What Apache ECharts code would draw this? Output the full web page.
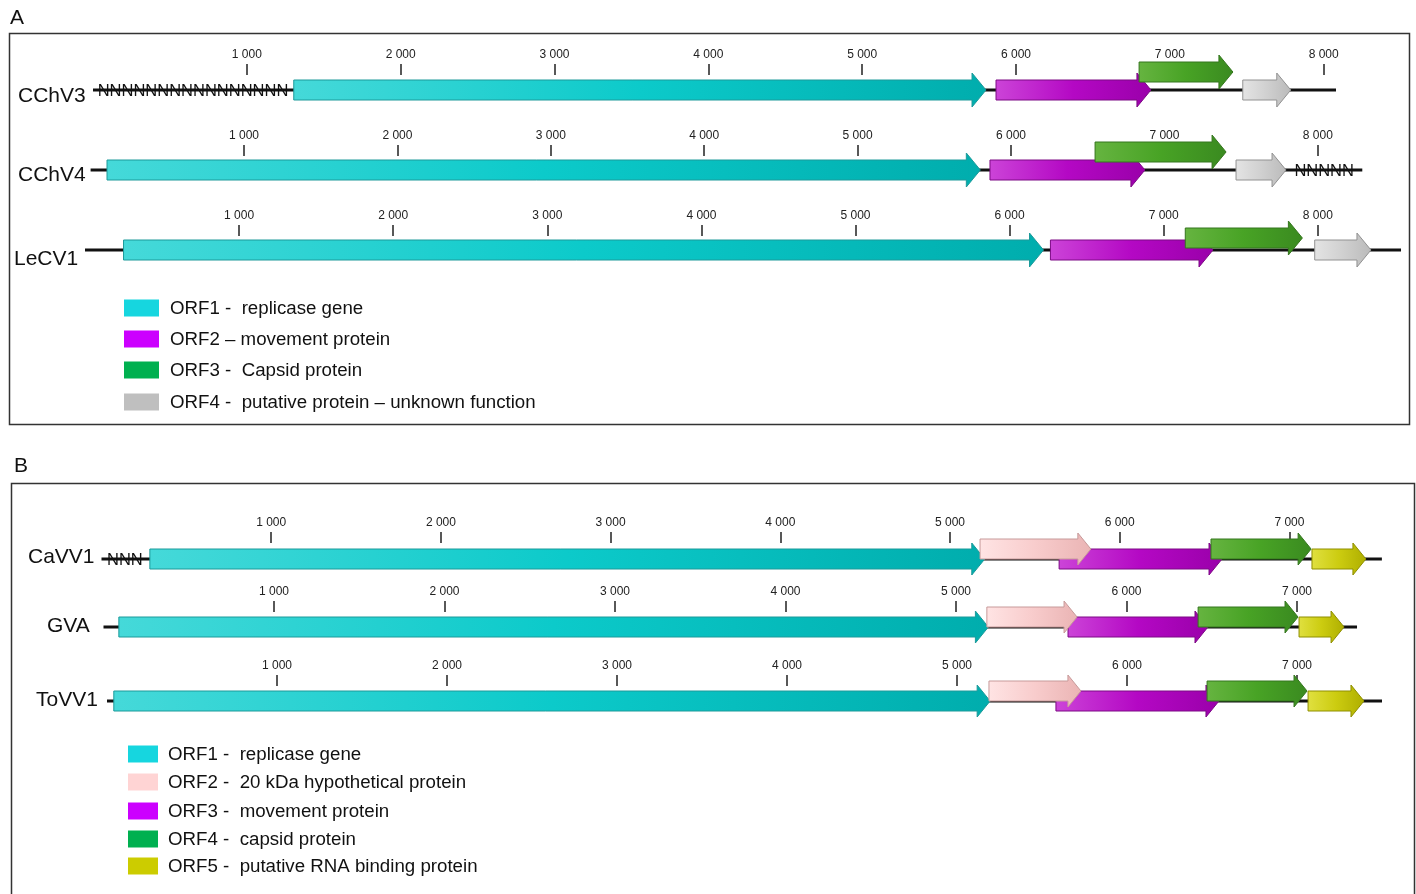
<!DOCTYPE html>
<html lang="en">
<head>
    <meta charset="UTF-8">
    <title>Genome maps</title>
    <style>
        html, body { margin: 0; padding: 0; background: #fff; }
        #main { width: 1416px; height: 894px; }
    </style>
</head>
<body>
    <div id="main"></div>
    <script src="https://cdn.jsdelivr.net/npm/echarts@6/dist/echarts.min.js"></script>
    <script>
    // genome names, total length (nt) and the undetermined (N) stretch
    const genomeNames = ['CChV3', 'CChV4', 'LeCV1', 'CaVV1', 'GVA', 'ToVV1'];
    const genomeLengths = [8080, 8290, 8540, 7545, 7352, 7500];
    const nRegions = [[0, 1300], [7793, 8290], null, [0, 275], null, null];
    const nTexts = ['NNNNNNNNNNNNNNNN', 'NNNNN', '', 'NNN', '', ''];

    // ORFs: [start, end, orf number, lane (1 = drawn raised)]
    const cchv3Orfs = [[1305, 5805, 1, 0], [5870, 6877, 2, 0], [6800, 7410, 3, 1], [7474, 7786, 4, 0]];
    const cchv4Orfs = [[107, 5800, 1, 0], [5863, 6873, 2, 0], [6548, 7402, 3, 1], [7467, 7793, 4, 0]];
    const lecv1Orfs = [[250, 6220, 1, 0], [6265, 7320, 2, 0], [7140, 7900, 3, 1], [7980, 8345, 4, 0]];
    const cavv1Orfs = [[285, 5205, 1, 0], [5643, 6603, 3, 0], [7133, 7451, 5, 0], [5177, 5830, 2, 1], [6538, 7128, 4, 1]];
    const gvaOrfs   = [[90, 5190, 1, 0], [5657, 6478, 3, 0], [7012, 7276, 5, 0], [5181, 5710, 2, 1], [6420, 7006, 4, 1]];
    const tovv1Orfs = [[40, 5195, 1, 0], [5582, 6541, 3, 0], [7065, 7394, 5, 0], [5188, 5729, 2, 1], [6471, 7059, 4, 1]];
    const orfSets = [cchv3Orfs, cchv4Orfs, lecv1Orfs, cavv1Orfs, gvaOrfs, tovv1Orfs];

    const ticksA = [1000, 2000, 3000, 4000, 5000, 6000, 7000, 8000];
    const ticksB = [1000, 2000, 3000, 4000, 5000, 6000, 7000];

    const legendA = ['ORF1 -  replicase gene', 'ORF2 \u2013 movement protein', 'ORF3 -  Capsid protein',
        'ORF4 -  putative protein \u2013 unknown function'];
    const legendB = ['ORF1 -  replicase gene', 'ORF2 -  20 kDa hypothetical protein', 'ORF3 -  movement protein',
        'ORF4 -  capsid protein', 'ORF5 -  putative RNA binding protein'];

    const FONT = '"Liberation Sans", Arial, Helvetica, sans-serif';

    // colours: [legend swatch, gradient stops, outline]
    const pal = {
        cyan:    ['#16d6df', ['#45d9d9', '#0ccaca', '#00adad'], '#1c9a9a'],
        magenta: ['#cc00ff', ['#cc44d8', '#b408c4', '#9a00aa'], '#7d0a85'],
        green:   ['#00b050', ['#66b440', '#48a325', '#3a8a20'], '#35761e'],
        gray:    ['#bfbfbf', ['#e4e4e4', '#d0d0d0', '#bababa'], '#929292'],
        pink:    ['#ffd4d4', ['#ffe4e4', '#f8cccc', '#eab4b4'], '#c79a9a'],
        yellow:  ['#cccc00', ['#e0e040', '#cccc10', '#aeae00'], '#8f8f00']
    };
    const colorsA = ['cyan', 'magenta', 'green', 'gray'];
    const colorsB = ['cyan', 'pink', 'magenta', 'green', 'yellow'];

    // per genome layout (pixels): grid top = bottom of the tick marks, grid bottom = genome line
    const layout = [
        { left: 93,    scale: 0.1540, top: 75,  h: 15, max: 8600, raise: 18, body: 10, head: 17, hl: 14, label: [18, 96],  ticks: ticksA, colors: colorsA },
        { left: 90.6,  scale: 0.1534, top: 156, h: 14, max: 8600, raise: 18, body: 10, head: 17, hl: 14, label: [18, 175], ticks: ticksA, colors: colorsA },
        { left: 85,    scale: 0.1541, top: 236, h: 14, max: 8600, raise: 12, body: 10, head: 17, hl: 14, label: [14, 259], ticks: ticksA, colors: colorsA },
        { left: 101.5, scale: 0.1697, top: 543, h: 16, max: 7600, raise: 10, body: 10, head: 16, hl: 13, label: [28, 557], ticks: ticksB, colors: colorsB },
        { left: 103.5, scale: 0.1705, top: 612, h: 15, max: 7600, raise: 10, body: 10, head: 16, hl: 13, label: [47, 626], ticks: ticksB, colors: colorsB },
        { left: 107,   scale: 0.1700, top: 686, h: 15, max: 7600, raise: 10, body: 10, head: 16, hl: 13, label: [36, 700], ticks: ticksB, colors: colorsB }
    ];

    function fmt(v) {
        return String(v).replace(/\B(?=(\d{3})+(?!\d))/g, ' ');
    }

    function grad(stops) {
        return {
            type: 'linear', x: 0, y: 0, x2: 1, y2: 0, global: false,
            colorStops: [{ offset: 0, color: stops[0] }, { offset: 0.5, color: stops[1] }, { offset: 1, color: stops[2] }]
        };
    }

    const grids = [], xAxes = [], yAxes = [], series = [];

    layout.forEach(function (L, i) {
        grids.push({ left: L.left, top: L.top, width: L.max * L.scale, height: L.h });
        xAxes.push({
            type: 'value', gridIndex: i, position: 'top', min: 0, max: L.max,
            axisLine: { show: false, onZero: false }, splitLine: { show: false },
            axisTick: { show: true, inside: false, length: 11, customValues: L.ticks, lineStyle: { color: '#222', width: 1.5 } },
            axisLabel: { show: true, customValues: L.ticks, margin: 14, fontSize: 12, color: '#222', fontFamily: FONT, formatter: fmt }
        });
        yAxes.push({ type: 'value', gridIndex: i, min: 0, max: 1, show: false });

        // backbone line + N stretch
        series.push({
            type: 'custom', xAxisIndex: i, yAxisIndex: i, z: 1, silent: true,
            data: [[0, genomeLengths[i]]],
            renderItem: function (params, api) {
                const a = api.coord([api.value(0), 0]);
                const b = api.coord([api.value(1), 0]);
                const children = [{
                    type: 'line', shape: { x1: a[0], y1: a[1], x2: b[0], y2: b[1] },
                    style: { stroke: '#111', lineWidth: 3 }
                }];
                if (nRegions[i]) {
                    const p = api.coord([nRegions[i][0], 0]);
                    const q = api.coord([nRegions[i][1], 0]);
                    children.push({
                        type: 'text', x: (p[0] + q[0]) / 2, y: p[1] + 1,
                        style: { text: nTexts[i], fill: '#111', font: '16.5px ' + FONT, align: 'center', verticalAlign: 'middle' }
                    });
                }
                return { type: 'group', children: children };
            }
        });

        // ORF arrows
        series.push({
            type: 'custom', xAxisIndex: i, yAxisIndex: i, z: 2, silent: true,
            data: orfSets[i],
            renderItem: function (params, api) {
                const s = api.coord([api.value(0), 0]);
                const e = api.coord([api.value(1), 0]);
                const c = pal[L.colors[api.value(2) - 1]];
                const y = s[1] - api.value(3) * L.raise;
                const xb = Math.max(s[0], e[0] - L.hl);
                const pts = [[s[0], y - L.body], [xb, y - L.body], [xb, y - L.head], [e[0], y],
                    [xb, y + L.head], [xb, y + L.body], [s[0], y + L.body]];
                return {
                    type: 'polygon', shape: { points: pts },
                    style: { fill: grad(c[1]), stroke: c[2], lineWidth: 1 }
                };
            }
        });
    });

    // frames, panel letters, genome names, legends
    const graphics = [
        { type: 'rect', shape: { x: 9.5, y: 33.5, width: 1400, height: 391 }, style: { fill: 'none', stroke: '#333', lineWidth: 1.5 } },
        { type: 'rect', shape: { x: 11.5, y: 483.5, width: 1403, height: 430 }, style: { fill: 'none', stroke: '#333', lineWidth: 1.5 } },
        { type: 'text', x: 10, y: 18, style: { text: 'A', font: '21px ' + FONT, fill: '#111', verticalAlign: 'middle' } },
        { type: 'text', x: 14, y: 466, style: { text: 'B', font: '21px ' + FONT, fill: '#111', verticalAlign: 'middle' } }
    ];
    layout.forEach(function (L, i) {
        graphics.push({ type: 'text', x: L.label[0], y: L.label[1],
            style: { text: genomeNames[i], font: '21px ' + FONT, fill: '#111', verticalAlign: 'middle' } });
    });
    const legRowsA = [308, 339, 370, 402];
    legendA.forEach(function (t, k) {
        graphics.push({ type: 'rect', shape: { x: 124, y: legRowsA[k] - 8.5, width: 35, height: 17 }, style: { fill: pal[colorsA[k]][0] } });
        graphics.push({ type: 'text', x: 170, y: legRowsA[k] + 1, style: { text: t, font: '18.7px ' + FONT, fill: '#111', verticalAlign: 'middle' } });
    });
    const legRowsB = [754, 782, 811, 839, 866];
    legendB.forEach(function (t, k) {
        graphics.push({ type: 'rect', shape: { x: 128, y: legRowsB[k] - 8.5, width: 30, height: 17 }, style: { fill: pal[colorsB[k]][0] } });
        graphics.push({ type: 'text', x: 168, y: legRowsB[k] + 1, style: { text: t, font: '18.7px ' + FONT, fill: '#111', verticalAlign: 'middle' } });
    });

    const myChart = echarts.init(document.getElementById('main'));
    myChart.setOption({
        animation: false,
        backgroundColor: '#fff',
        grid: grids,
        xAxis: xAxes,
        yAxis: yAxes,
        series: series,
        graphic: graphics
    });
    </script>
</body>
</html>
